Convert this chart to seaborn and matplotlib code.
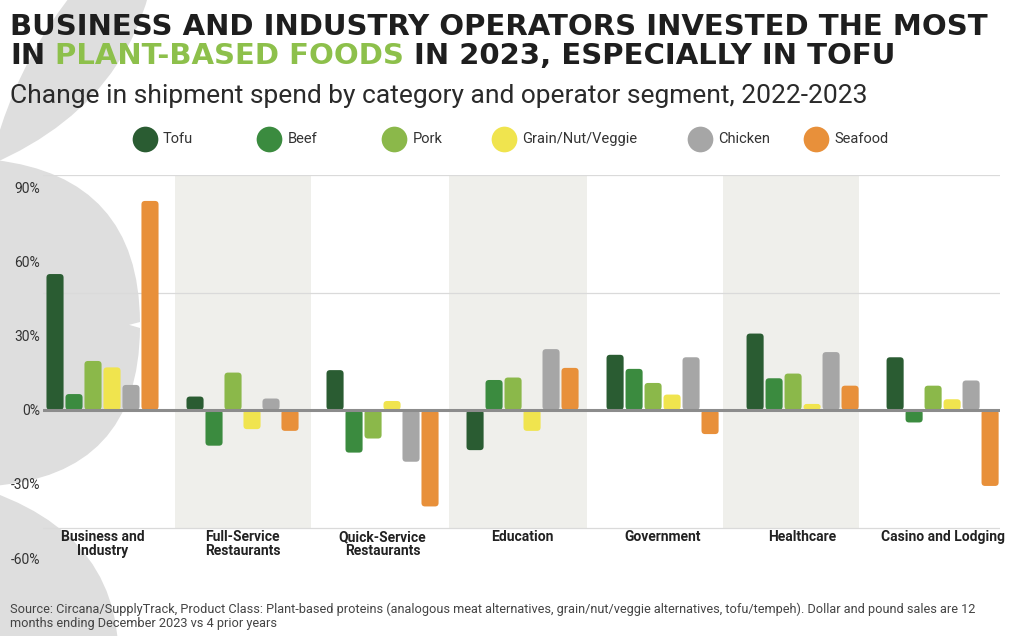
import matplotlib
matplotlib.use("Agg")
import matplotlib.pyplot as plt
import seaborn as sns
import pandas as pd
import numpy as np
from matplotlib.patches import FancyBboxPatch, PathPatch, Rectangle
from matplotlib.path import Path
from matplotlib.lines import Line2D

# ---------------- data ----------------
segments = ["Business and\nIndustry", "Full-Service\nRestaurants", "Quick-Service\nRestaurants",
            "Education", "Government", "Healthcare", "Casino and Lodging"]
categories = ["Tofu", "Beef", "Pork", "Grain/Nut/Veggie", "Chicken", "Seafood"]
tofu    = [55.0,   5.4,  16.1, -16.3, 22.3, 30.9,  21.3]
beef    = [6.4,  -14.5, -17.3,  12.1, 16.6, 12.8,  -5.1]
pork    = [19.8,  15.1, -11.6,  13.1, 10.9, 14.7,   9.8]
grain   = [17.2,  -7.8,   3.6,  -8.5,  6.2,  2.4,   4.3]
chicken = [10.1,   4.6, -21.0,  24.6, 21.3, 23.4,  11.9]
seafood = [84.6,  -8.5, -39.1,  17.0, -9.8,  9.8, -30.8]
ytick_values = [90, 60, 30, 0, -30, -60]
ytick_labels = ["90%", "60%", "30%", "0%", "-30%", "-60%"]

series = [tofu, beef, pork, grain, chicken, seafood]
df = pd.DataFrame([
    {"segment": s, "category": c, "value": v}
    for c, vals in zip(categories, series)
    for s, v in zip(segments, vals)
])

# ---------------- style ----------------
palette = ["#2a5c32", "#3b8b3f", "#8bb84a", "#f0e44e", "#a6a6a6", "#e8903a"]
sns.set_theme(style="white")
plt.rcParams["font.family"] = ["Roboto", "DejaVu Sans"]

W, H = 1024, 636
fig = plt.figure(figsize=(W / 100, H / 100), dpi=100)
fig.patch.set_facecolor("white")
renderer = fig.canvas.get_renderer()


def fx(x):
    return x / W


def fy(y):
    return 1 - y / H


# ---------------- decorative leaves ----------------
def leaf(p0, p1, b_right, b_left, color="#dedede"):
    p0 = np.array(p0, float)
    p1 = np.array(p1, float)
    mid = (p0 + p1) / 2
    d = (p1 - p0) / np.linalg.norm(p1 - p0)
    n = np.array([d[1], -d[0]])
    c1 = mid + n * 2 * b_right
    c2 = mid - n * 2 * b_left
    pts = [p0, c1, p1, c2, p0]
    verts = [(fx(p[0]), fy(p[1])) for p in pts]
    codes = [Path.MOVETO, Path.CURVE3, Path.CURVE3, Path.CURVE3, Path.CURVE3]
    patch = PathPatch(Path(verts, codes), facecolor=color, edgecolor="none",
                      transform=fig.transFigure, zorder=-10)
    fig.add_artist(patch)


leaf((160, -90), (-10, 165), 50, 28)
leaf((-5, 160), (140, 322), 48, 110)
leaf((140, 328), (-8, 486), 50, 110)
leaf((-8, 492), (115, 700), 50, 110)

# ---------------- axes ----------------
ax_left, ax_right, ax_top, ax_bottom = 43, 1000, 175, 563
ax = fig.add_axes([fx(ax_left), fy(ax_bottom), (ax_right - ax_left) / W, (ax_bottom - ax_top) / H])
ax.patch.set_alpha(0)

ylim = (-62, 95.1)
xlim = (-0.425, 6.41)

sns.barplot(data=df, x="segment", y="value", hue="category", order=segments,
            hue_order=categories, palette=palette, width=0.814, gap=0.1,
            saturation=1, legend=False, ax=ax, zorder=2)
ax.set_xlim(*xlim)
ax.set_ylim(*ylim)

# shaded segment bands
band_spans = [(0.52, 1.49), (2.475, 3.46), (4.43, 5.40)]
for a, b in band_spans:
    ax.add_patch(Rectangle((a, -47.8), b - a, 95.1 + 47.8, facecolor="#efefeb",
                           edgecolor="none", zorder=0))

# gridlines
for g in [95.1, 47.4, -47.8]:
    ax.axhline(g, color="#dadada", lw=0.9, zorder=0.5)

# rounded bars
x_per_px = (xlim[1] - xlim[0]) / (ax_right - ax_left)
y_per_px = (ylim[1] - ylim[0]) / (ax_bottom - ax_top)
asp = y_per_px / x_per_px
for cont in ax.containers:
    for bar in cont:
        x, y, w, h = bar.get_x(), bar.get_y(), bar.get_width(), bar.get_height()
        y0, hh = (y, h) if h >= 0 else (y + h, -h)
        r = min(3.5 * x_per_px, w / 2, hh / asp / 2)
        fb = FancyBboxPatch((x, y0), w, hh, boxstyle=f"round,pad=0,rounding_size={r}",
                            mutation_aspect=asp, facecolor=bar.get_facecolor(),
                            edgecolor="none", zorder=2)
        ax.add_patch(fb)
        bar.set_visible(False)

ax.axhline(0, color="#8c8c8c", lw=2.2, zorder=3)

for sp in ax.spines.values():
    sp.set_visible(False)
ax.set_xlabel("")
ax.set_ylabel("")
ax.set_yticks(ytick_values)
ax.set_yticklabels(ytick_labels, fontsize=10, color="#333333")
ax.tick_params(axis="y", length=0, pad=2)
ax.set_xticks(range(len(segments)))
ax.set_xticklabels(segments, fontsize=10, fontweight="bold", color="#222222", linespacing=1.0)
ax.tick_params(axis="x", length=0, pad=-33 * 0.72)
ax.grid(False)


# ---------------- titles ----------------
def fit(t, target_w):
    w = t.get_window_extent(renderer).width
    t.set_fontsize(t.get_fontsize() * target_w / w)
    return t


title_family = ["DejaVu Sans"]
title_kw = dict(fontweight="bold", family=title_family, color="#1e1e1e", va="baseline", ha="left")
t1 = fig.text(fx(10), fy(35), "BUSINESS AND INDUSTRY OPERATORS INVESTED THE MOST", fontsize=22, **title_kw)
fit(t1, 975)
fs = t1.get_fontsize()


def width_of(s):
    t = fig.text(0, 0, s, fontsize=fs, fontweight="bold", family=title_family)
    w = t.get_window_extent(renderer).width
    t.remove()
    return w


line2_a, line2_b, line2_c = "IN", "PLANT-BASED FOODS", "IN 2023, ESPECIALLY IN TOFU"
x0 = 10
xb = x0 + width_of(line2_a + " " + line2_b) - width_of(line2_b)
xc = x0 + width_of(line2_a + " " + line2_b + " " + line2_c) - width_of(line2_c)
fig.text(fx(x0), fy(64), line2_a, fontsize=fs, **title_kw)
fig.text(fx(xb), fy(64), line2_b, fontsize=fs, **{**title_kw, "color": "#8dc04b"})
fig.text(fx(xc), fy(64), line2_c, fontsize=fs, **title_kw)

st = fig.text(fx(10), fy(103), "Change in shipment spend by category and operator segment, 2022-2023",
              fontsize=18, color="#2a2a2a", va="baseline", ha="left")
fit(st, 856)

# ---------------- legend ----------------
legend_marker_x = [144.5, 269, 394, 504, 700, 816]
leg_y = 139
for xm, c, lab in zip(legend_marker_x, palette, categories):
    fig.add_artist(Line2D([fx(xm)], [fy(leg_y)], marker="o", markersize=18.5, color=c,
                          markeredgecolor="none", linestyle="", transform=fig.transFigure))
    fig.text(fx(xm + 18.5), fy(leg_y), lab, fontsize=10.5, color="#333333", va="center", ha="left")

# ---------------- source ----------------
src1 = ("Source: Circana/SupplyTrack, Product Class: Plant-based proteins (analogous meat alternatives, "
        "grain/nut/veggie alternatives, tofu/tempeh). Dollar and pound sales are 12")
src2 = "months ending December 2023 vs 4 prior years"
s1 = fig.text(fx(10), fy(613), src1, fontsize=9, color="#444444", va="baseline", ha="left")
fit(s1, 975)
fig.text(fx(10), fy(627), src2, fontsize=s1.get_fontsize(), color="#444444", va="baseline", ha="left")

fig.savefig("out.png", dpi=100, facecolor="white")
